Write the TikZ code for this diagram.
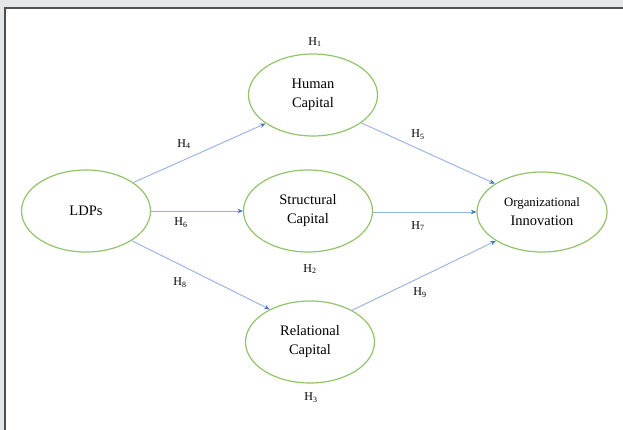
\documentclass[tikz,border=0pt]{standalone}
\usepackage{fontspec}
\setmainfont{Liberation Serif}
\usetikzlibrary{shapes.geometric,arrows.meta}
\definecolor{ellgreen}{RGB}{146,196,108}
\definecolor{arrblue}{RGB}{150,178,228}
\definecolor{tipblue}{RGB}{68,114,196}
\definecolor{bggray}{RGB}{228,230,232}
\definecolor{framegray}{RGB}{80,80,80}
\tikzset{
  construct/.style={ellipse,draw=ellgreen,line width=1.2pt,fill=white,
    minimum width=129pt,minimum height=82pt,inner sep=0pt,align=center,
    font=\fontsize{14.5}{19}\selectfont},
  link/.style={draw=arrblue,line width=0.9pt,
    -{Stealth[length=5.5pt,width=4.5pt,color=tipblue]}},
  hlab/.style={inner sep=0pt,font=\fontsize{12}{14}\selectfont}
}
\begin{document}
\begin{tikzpicture}[x=1pt,y=-1pt]
\useasboundingbox (0,0) rectangle (623,430);
\fill[bggray] (0,0) rectangle (623,430);
\fill[white] (5,8) rectangle (623,430);
\draw[framegray,line width=1.2pt] (5,430) -- (5,8) -- (623,8);

\node[construct] (ldps) at (86,211) {LDPs};
\node[construct] (hum) at (313,95) {Human\\Capital};
\node[construct] (str) at (308,211) {Structural\\Capital};
\node[construct] (rel) at (310,342) {Relational\\Capital};
\node[construct,minimum width=130pt,minimum height=80pt] (org) at (542,212)
  {{\fontsize{12.8}{15}\selectfont Organizational}\\Innovation};

\draw[link] (ldps.31) -- (hum.211);
\draw[link] (ldps.east) -- (str.west |- ldps.east);
\draw[link] (ldps.327) -- (rel.141);
\draw[link] (hum.330) -- (org.149);
\draw[link] (str.east |- org.west) -- (org.west);
\draw[link] (rel.37) -- (org.212);

\node[hlab] (h1) at (315,42) {H\textsubscript{1}};
\node[hlab] (h2) at (310,269) {H\textsubscript{2}};
\node[hlab] (h3) at (311,398) {H\textsubscript{3}};
\node[hlab] (h4) at (184,144) {H\textsubscript{4}};
\node[hlab] (h5) at (418,135) {H\textsubscript{5}};
\node[hlab] (h6) at (181,223) {H\textsubscript{6}};
\node[hlab] (h7) at (418,226) {H\textsubscript{7}};
\node[hlab] (h8) at (180,283) {H\textsubscript{8}};
\node[hlab] (h9) at (420,293) {H\textsubscript{9}};
\end{tikzpicture}
\end{document}
